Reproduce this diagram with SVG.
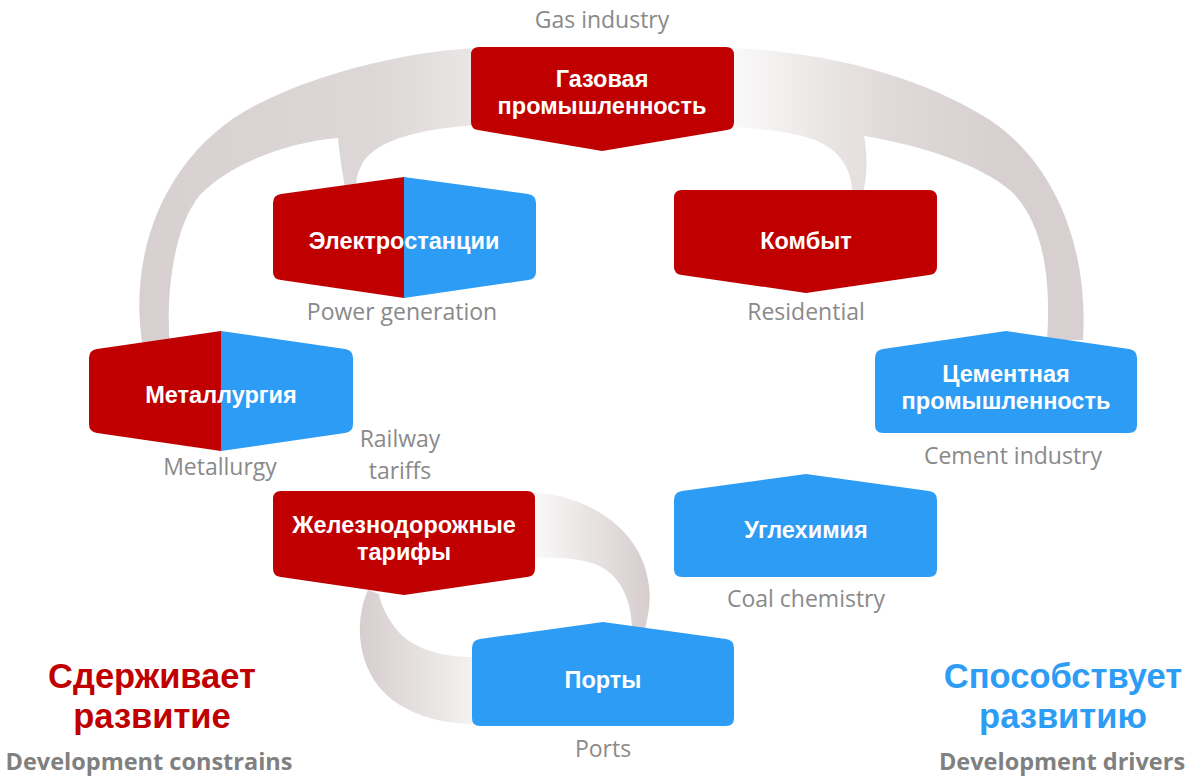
<svg xmlns="http://www.w3.org/2000/svg" width="1192" height="776" viewBox="0 0 1192 776">
<defs>
<style>
.red{fill:#c00000}
.blue{fill:#2d9cf5}
.lbl{font-family:"Liberation Sans","Open Sans",sans-serif;font-weight:bold;font-size:23.5px;fill:#ffffff;text-anchor:middle}
.en{font-family:"Open Sans","Liberation Sans",sans-serif;font-size:23px;fill:#8a8a8a;text-anchor:middle}
.big{font-family:"Liberation Sans","Open Sans",sans-serif;font-weight:bold;font-size:34.5px;text-anchor:middle}
.sub{font-family:"Open Sans","Liberation Sans",sans-serif;font-weight:bold;font-size:23.5px;fill:#808080;text-anchor:middle}
</style>
<linearGradient id="gL" x1="140" y1="0" x2="480" y2="0" gradientUnits="userSpaceOnUse">
<stop offset="0" stop-color="#d8d0d0"/><stop offset="0.7" stop-color="#ddd7d7"/><stop offset="1" stop-color="#ebe7e7"/>
</linearGradient>
<linearGradient id="gR" x1="725" y1="0" x2="1000" y2="0" gradientUnits="userSpaceOnUse">
<stop offset="0" stop-color="#fbfafa"/><stop offset="0.6" stop-color="#e0d9d9"/><stop offset="1" stop-color="#d8d0d0"/>
</linearGradient>
<linearGradient id="gB1" x1="530" y1="0" x2="650" y2="0" gradientUnits="userSpaceOnUse">
<stop offset="0" stop-color="#fbfafa"/><stop offset="1" stop-color="#d6cdcd"/>
</linearGradient>
<linearGradient id="gB2" x1="358" y1="0" x2="480" y2="0" gradientUnits="userSpaceOnUse">
<stop offset="0" stop-color="#d6cdcd"/><stop offset="1" stop-color="#f6f4f4"/>
</linearGradient>
</defs>
<rect width="1192" height="776" fill="#ffffff"/>

<g id="connectors">
<path fill="url(#gL)" d="M143,348 C126,250 168,148 260,103 C330,68 420,50 480,48 L480,125 C420,128 378,140 363,162 C356,175 355,185 357,195 L346,195 C344,180 340,160 338,138 C290,142 232,162 200,195 C175,225 165,290 170,348 Z"/>
<path fill="url(#gR)" d="M725,48 C820,50 920,75 990,120 C1050,160 1089,240 1083,340 L1047,340 C1052,270 1040,220 1012,192 C982,165 920,145 864,136 C868,158 867,178 863,192 L852,192 C852,170 840,150 815,140 C790,131 760,128 725,127 Z"/>
<path fill="url(#gB1)" d="M530,492 C590,495 640,530 648,580 C652,600 648,615 645,630 L632,630 C632,600 620,572 592,563 C570,557 550,557 530,558 Z"/>
<path fill="url(#gB2)" d="M368,590 C352,625 358,680 400,705 C425,720 450,724 480,724 L480,657 C440,658 412,648 397,630 C387,618 381,605 379,594 Z"/>
</g>

<g id="gas">
<path class="red" d="M479,47 H726 Q734,47 734,55 V122 Q734,129 727,130 L602,151 L478,130 Q471,129 471,122 V55 Q471,47 479,47 Z"/>
<text class="lbl" x="602" y="87">Газовая</text>
<text class="lbl" x="602" y="114">промышленность</text>
</g>
<text class="en" x="602" y="28">Gas industry</text>

<g id="power">
<path class="red" d="M404,177 V298 L281,280 Q273,279 273,272 V203 Q273,195 281,194 Z"/>
<path class="blue" d="M404,177 L528,194 Q536,195 536,203 V272 Q536,279 528,280 L404,298 Z"/>
<text class="lbl" x="404" y="249">Электростанции</text>
<text class="en" x="402" y="320">Power generation</text>
</g>

<g id="metallurgy">
<path class="red" d="M221,331 V451 L97,433 Q89,432 89,424 V358 Q89,350 97,349 Z"/>
<path class="blue" d="M221,331 L345,349 Q353,350 353,358 V424 Q353,432 345,433 L221,451 Z"/>
<text class="lbl" x="221" y="403">Металлургия</text>
<text class="en" x="220" y="475">Metallurgy</text>
</g>

<g id="residential">
<path class="red" d="M682,190 H929 Q937,190 937,198 V267 Q937,274 929,275 L806,293 L682,275 Q674,274 674,267 V198 Q674,190 682,190 Z"/>
<text class="lbl" x="806" y="249">Комбыт</text>
<text class="en" x="806" y="320">Residential</text>
</g>

<g id="cement">
<path class="blue" d="M1006,331 L1129,349 Q1137,350 1137,358 V425 Q1137,433 1129,433 H883 Q875,433 875,425 V358 Q875,350 883,349 Z"/>
<text class="lbl" x="1006" y="382">Цементная</text>
<text class="lbl" x="1006" y="409">промышленность</text>
<text class="en" x="1013" y="464">Cement industry</text>
</g>

<g id="railway">
<path class="red" d="M281,491 H527 Q535,491 535,499 V569 Q535,576 527,577 L404,595 L281,577 Q273,576 273,569 V499 Q273,491 281,491 Z"/>
<text class="lbl" x="404" y="533">Железнодорожные</text>
<text class="lbl" x="404" y="560">тарифы</text>
<text class="en" x="400" y="447">Railway</text>
<text class="en" x="400" y="479">tariffs</text>
</g>

<g id="coal">
<path class="blue" d="M806,474 L929,491 Q937,492 937,500 V569 Q937,577 929,577 H682 Q674,577 674,569 V500 Q674,492 682,491 Z"/>
<text class="lbl" x="806" y="538">Углехимия</text>
<text class="en" x="806" y="607">Coal chemistry</text>
</g>

<g id="ports">
<path class="blue" d="M603,622 L726,639 Q734,640 734,648 V718 Q734,726 726,726 H480 Q472,726 472,718 V648 Q472,640 480,639 Z"/>
<text class="lbl" x="603" y="688">Порты</text>
<text class="en" x="603" y="757">Ports</text>
</g>

<g id="legend-left">
<text class="big" x="152" y="688" fill="#c00000">Сдерживает</text>
<text class="big" x="152" y="728" fill="#c00000">развитие</text>
<text class="sub" x="149" y="770">Development constrains</text>
</g>
<g id="legend-right">
<text class="big" x="1063" y="688" fill="#2d9cf5">Способствует</text>
<text class="big" x="1063" y="728" fill="#2d9cf5">развитию</text>
<text class="sub" x="1062" y="770">Development drivers</text>
</g>
</svg>
